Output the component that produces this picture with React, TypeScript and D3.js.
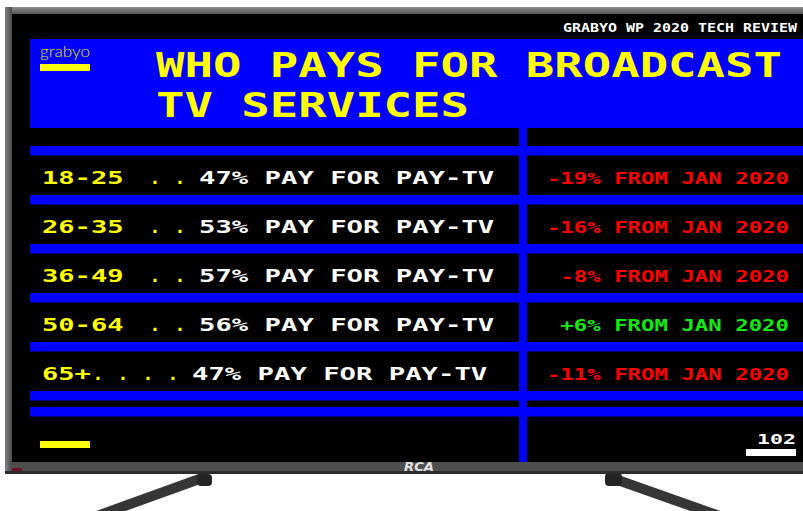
import { useEffect, useRef } from "react";
import * as d3 from "d3";

const ageGroups = ["18-25", "26-35", "36-49", "50-64", "65+"];
const payShare = [47, 53, 57, 56, 47];
const changeFromJan = [-19, -16, -8, 6, -11];
const titleLines = ["WHO PAYS FOR BROADCAST", "TV SERVICES"];
const headerText = "GRABYO WP 2020 TECH REVIEW";
const pageNumber = "102";

const BLUE = "#0000fc";
const YELLOW = "#ffff00";
const RED = "#ff0000";
const GREEN = "#13e813";
const MONO = "'DejaVu Sans Mono', 'Liberation Mono', monospace";

export default function App() {
  const svgRef = useRef(null);

  useEffect(() => {
    const svg = d3.select(svgRef.current);
    svg.selectAll("*").remove();

    // teletext-ish text: monospace stretched to fill a fixed cell pitch
    const tt = (g, txt, x, y, cap, len, fill) =>
      g.append("text")
        .attr("x", x).attr("y", y)
        .attr("font-family", MONO).attr("font-weight", "bold")
        .attr("font-size", cap / 0.729)
        .attr("textLength", len).attr("lengthAdjust", "spacingAndGlyphs")
        .attr("fill", fill)
        .text(txt);

    // stand legs (behind the set)
    const legs = svg.append("g").attr("stroke", "#363636").attr("stroke-width", 10);
    legs.append("line").attr("x1", 205).attr("y1", 477).attr("x2", 72).attr("y2", 525);
    legs.append("line").attr("x1", 612).attr("y1", 478).attr("x2", 745).attr("y2", 525);
    svg.append("rect").attr("x", 197).attr("y", 474).attr("width", 15).attr("height", 12).attr("rx", 4).attr("fill", "#242424");
    svg.append("rect").attr("x", 605).attr("y", 473).attr("width", 17).attr("height", 13).attr("rx", 4).attr("fill", "#242424");

    // bezel
    const defs = svg.append("defs");
    const gTop = defs.append("linearGradient").attr("id", "bzTop").attr("x1", 0).attr("y1", 0).attr("x2", 0).attr("y2", 1);
    gTop.append("stop").attr("offset", 0).attr("stop-color", "#8c8c8c");
    gTop.append("stop").attr("offset", 1).attr("stop-color", "#555");
    const gLeft = defs.append("linearGradient").attr("id", "bzLeft").attr("x1", 0).attr("y1", 0).attr("x2", 1).attr("y2", 0);
    gLeft.append("stop").attr("offset", 0).attr("stop-color", "#808080");
    gLeft.append("stop").attr("offset", 1).attr("stop-color", "#4a4a4a");

    svg.append("rect").attr("x", 5).attr("y", 7).attr("width", 830).attr("height", 467).attr("fill", "#4e4e4e");
    svg.append("rect").attr("x", 5).attr("y", 7).attr("width", 830).attr("height", 7).attr("fill", "url(#bzTop)");
    svg.append("rect").attr("x", 5).attr("y", 7).attr("width", 7).attr("height", 467).attr("fill", "url(#bzLeft)");
    svg.append("rect").attr("x", 5).attr("y", 471).attr("width", 830).attr("height", 3).attr("fill", "#2c2c2c");
    svg.append("rect").attr("x", 12).attr("y", 468).attr("width", 10).attr("height", 3).attr("fill", "#6e1228");
    svg.append("text").attr("x", 419).attr("y", 471).attr("text-anchor", "middle")
      .attr("font-family", "'DejaVu Sans', sans-serif").attr("font-weight", "bold").attr("font-style", "italic")
      .attr("font-size", 12).attr("textLength", 30).attr("lengthAdjust", "spacingAndGlyphs")
      .attr("fill", "#e2e2e2").text("RCA");

    // screen
    svg.append("rect").attr("x", 12).attr("y", 14).attr("width", 820).attr("height", 448).attr("fill", "#000");

    const screen = svg.append("g");
    tt(screen, headerText, 563, 32, 9, headerText.length * 9.0, "#fff");

    screen.append("rect").attr("x", 30).attr("y", 39).attr("width", 800).attr("height", 89).attr("fill", BLUE);
    screen.append("text").attr("x", 40).attr("y", 57)
      .attr("font-family", "Lato, 'Open Sans', sans-serif").attr("font-weight", 300).attr("font-size", 16)
      .attr("textLength", 50).attr("lengthAdjust", "spacingAndGlyphs")
      .attr("fill", "#e4e000").text("grabyo");
    screen.append("rect").attr("x", 40).attr("y", 64).attr("width", 50).attr("height", 7).attr("fill", YELLOW);

    titleLines.forEach((line, i) => {
      tt(screen, line, 156, 77 + i * 40, 24, line.length * 28.45, YELLOW);
    });

    // rows
    const y = d3.scaleBand().domain(ageGroups).range([146, 146 + ageGroups.length * 49]);
    const barH = 9.5;

    screen.selectAll("rect.bar").data(ageGroups).join("rect").classed("bar", true)
      .attr("x", 30).attr("y", (d) => y(d)).attr("width", 800).attr("height", barH).attr("fill", BLUE);
    const end = y.range()[1];
    screen.append("rect").attr("x", 30).attr("y", end).attr("width", 800).attr("height", barH).attr("fill", BLUE);
    screen.append("rect").attr("x", 30).attr("y", end + 16).attr("width", 800).attr("height", barH).attr("fill", BLUE);
    screen.append("rect").attr("x", 519).attr("y", 128).attr("width", 8).attr("height", 334).attr("fill", BLUE);

    ageGroups.forEach((label, i) => {
      const base = y(label) + 38;
      tt(screen, label, 42, base, 13, label.length * 16.3, YELLOW);

      const pctX = label.length < 5 ? 192 : 199;
      const nDots = label.length < 5 ? 4 : 2;
      d3.range(nDots).forEach((k) => {
        screen.append("text").attr("x", pctX - 19 - 25 * (nDots - 1 - k)).attr("y", base)
          .attr("text-anchor", "middle").attr("font-family", MONO).attr("font-weight", "bold")
          .attr("font-size", 18).attr("fill", YELLOW).text(".");
      });

      const pctStr = `${payShare[i]}% PAY FOR PAY-TV`;
      tt(screen, pctStr, pctX, base, 13, pctStr.length * 16.4, "#fff");

      const v = changeFromJan[i];
      const chStr = `${v > 0 ? "+" : "-"}${Math.abs(v)}% FROM JAN 2020`;
      const len = chStr.length * 13.45;
      tt(screen, chStr, 789 - len, base - 0.5, 11.7, len, v > 0 ? GREEN : RED);
    });

    // footer
    screen.append("rect").attr("x", 40).attr("y", 441).attr("width", 50).attr("height", 7).attr("fill", YELLOW);
    tt(screen, pageNumber, 757, 443.5, 10, 39, "#fff");
    screen.append("rect").attr("x", 746).attr("y", 449).attr("width", 50).attr("height", 7).attr("fill", "#fff");
  }, []);

  return (
    <svg
      ref={svgRef}
      width={803}
      height={511}
      style={{ position: "absolute", left: 0, top: 0, background: "#fff" }}
    />
  );
}
